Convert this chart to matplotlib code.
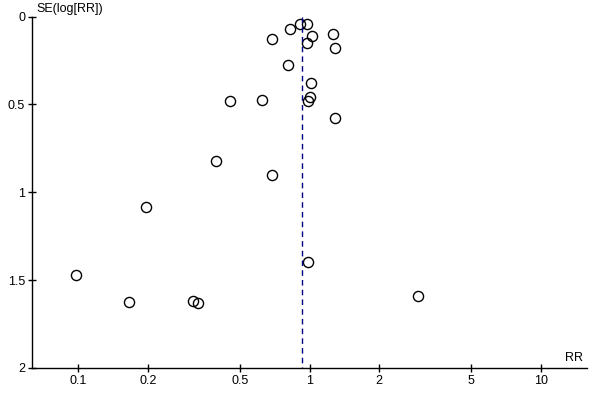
import matplotlib
matplotlib.use("Agg")
import matplotlib.pyplot as plt
import matplotlib.ticker as ticker

plt.rcParams["font.family"] = ["Liberation Sans", "DejaVu Sans"]

# funnel plot data: risk ratio and SE(log RR) for each study
rr = [0.914, 0.971, 0.827, 0.691, 1.03, 1.258, 0.98, 1.283, 0.811, 1.02,
      0.455, 0.626, 1.0, 0.99, 1.283, 0.396, 0.685, 0.197, 0.098, 0.166,
      0.314, 0.331, 0.99, 2.96]
se = [0.043, 0.044, 0.071, 0.128, 0.109, 0.098, 0.149, 0.178, 0.276, 0.377,
      0.479, 0.473, 0.456, 0.481, 0.576, 0.822, 0.900, 1.084, 1.471, 1.624,
      1.617, 1.630, 1.397, 1.590]
pooled_rr = 0.93
x_ticks = [0.1, 0.2, 0.5, 1, 2, 5, 10]
y_ticks = [0, 0.5, 1, 1.5, 2]

fig = plt.figure(figsize=(6, 4), dpi=100)
ax = fig.add_axes([32 / 600, 1 - 368 / 400, 555 / 600, 351.5 / 400])

ax.plot(rr, se, linestyle="none", marker="o", markersize=7.3,
        markerfacecolor="none", markeredgecolor="black", markeredgewidth=1.0)
ax.plot([pooled_rr, pooled_rr], [0, 2], color="#000080", linestyle=(0, (4, 3)),
        linewidth=1.0)

ax.set_xscale("log")
ax.set_xlim(10 ** -1.2, 10 ** 1.2)
ax.set_ylim(2, 0)
ax.set_xticks(x_ticks)
ax.set_yticks(y_ticks)
fmt = ticker.FuncFormatter(lambda v, p: "%g" % v)
ax.xaxis.set_major_formatter(fmt)
ax.yaxis.set_major_formatter(fmt)
ax.xaxis.set_minor_locator(ticker.NullLocator())

for s in ["top", "right"]:
    ax.spines[s].set_visible(False)
for s in ["left", "bottom"]:
    ax.spines[s].set_linewidth(1.0)
ax.tick_params(direction="inout", length=6, width=1, labelsize=9,
               colors="black", pad=2)

ax.annotate("SE(log[RR])", xy=(0, 1), xycoords="axes fraction",
            xytext=(3, 1), textcoords="offset points", ha="left", va="bottom",
            fontsize=9, annotation_clip=False)
ax.annotate("RR", xy=(1, 0), xycoords="axes fraction",
            xytext=(-3, 3), textcoords="offset points", ha="right", va="bottom",
            fontsize=9, annotation_clip=False)

fig.savefig("out.png", dpi=100)
